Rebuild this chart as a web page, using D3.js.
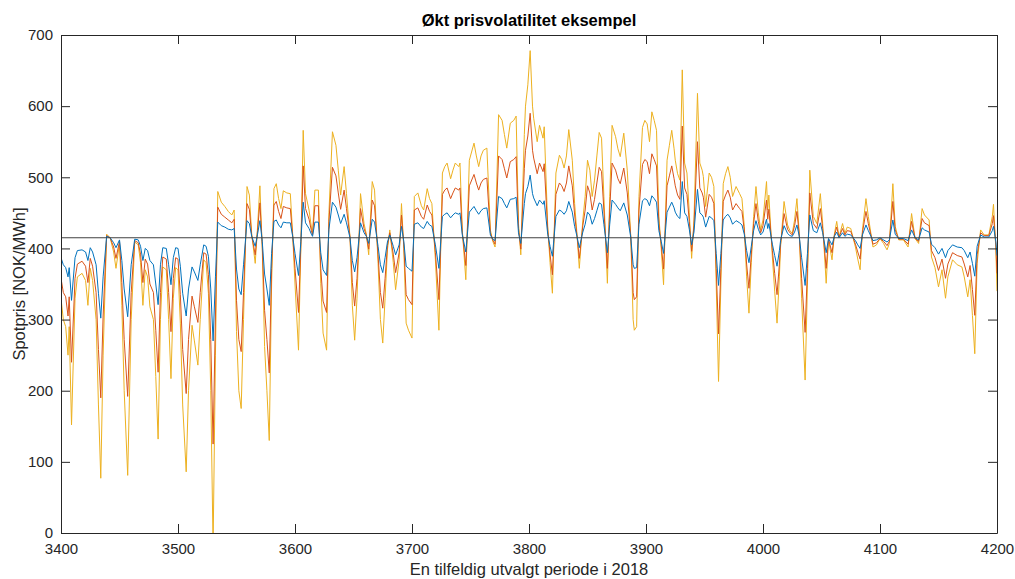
<!DOCTYPE html>
<html>
<head>
<meta charset="utf-8">
<script src="https://cdn.jsdelivr.net/npm/d3@7"></script>
<style>
  body { margin: 0; background: #fff; }
  text { font-family: "Liberation Sans", Arial, Helvetica, sans-serif; }
</style>
</head>
<body>
<div id="chart"></div>
<script>
// Hours (x) and spot prices
const hours = [3400,3402,3404,3406,3407,3409,3412,3414,3418,3421,3423,3425,3427,3430,3432,3434,3436,3439,3442,3445,3447,3450,3452,3454,3457,3460,3463,3466,3468,3470,3472,3474,3476,3479,3481,3483,3485,3487,3490,3492,3494,3496,3498,3500,3502,3504,3507,3509,3512,3514,3517,3519,3522,3524,3526,3528,3530,3532,3534,3537,3540,3543,3546,3548,3550,3552,3554,3556,3559,3561,3563,3566,3568,3570,3572,3574,3576,3578,3580,3582,3584,3586,3588,3590,3593,3596,3598,3600,3603,3605,3607,3609,3612,3614,3615,3617,3620,3622,3624,3627,3629,3632,3635,3637,3639,3642,3644,3647,3649,3651,3653,3656,3659,3661,3663,3666,3668,3671,3673,3675,3677,3679,3681,3684,3686,3689,3691,3693,3695,3697,3700,3702,3705,3708,3710,3713,3715,3717,3720,3723,3726,3728,3730,3733,3735,3737,3740,3741,3743,3746,3749,3753,3755,3757,3759,3761,3764,3767,3769,3771,3774,3777,3779,3781,3784,3787,3789,3791,3793,3796,3797,3799,3801,3803,3804,3807,3809,3812,3813,3816,3818,3820,3823,3826,3828,3830,3832,3834,3837,3839,3841,3843,3846,3848,3850,3852,3854,3856,3858,3860,3862,3864,3867,3869,3871,3874,3876,3878,3881,3884,3887,3889,3890,3892,3894,3897,3899,3901,3903,3905,3907,3909,3911,3913,3915,3918,3920,3922,3924,3925,3927,3929,3931,3933,3935,3937,3939,3941,3944,3946,3948,3949,3951,3954,3956,3958,3960,3962,3964,3966,3968,3970,3972,3974,3977,3980,3982,3984,3986,3988,3990,3992,3994,3996,3998,4000,4003,4004,4005,4008,4010,4012,4014,4015,4018,4021,4023,4025,4027,4029,4031,4033,4036,4038,4040,4043,4046,4049,4051,4054,4056,4059,4061,4063,4065,4068,4070,4072,4075,4077,4079,4081,4083,4085,4088,4090,4094,4097,4100,4103,4106,4108,4111,4113,4116,4120,4124,4127,4130,4133,4136,4138,4142,4144,4147,4150,4153,4156,4158,4162,4166,4170,4172,4175,4177,4179,4181,4183,4186,4189,4193,4196,4197,4199,4200];

// Base series (blue)
const priceBase = [387,377,373,360,373,327,387,397,398,395,383,401,395,377,337,302,360,417,415,408,401,412,383,343,304,377,413,412,403,383,400,397,383,377,350,321,377,401,400,377,349,387,401,400,375,337,305,343,374,367,355,377,405,403,389,343,270,360,437,432,430,427,426,428,371,343,335,377,439,435,417,403,420,439,410,364,343,320,393,438,440,433,429,437,436,436,417,393,362,410,465,436,428,420,417,437,437,394,370,362,427,465,458,447,435,448,436,415,383,367,387,436,422,417,407,441,437,403,377,366,387,409,419,403,391,405,431,410,375,372,368,434,436,430,428,438,433,431,405,372,445,448,450,443,447,450,448,450,419,395,451,459,453,448,453,456,457,419,413,411,473,470,463,457,469,470,472,422,407,463,477,487,503,477,471,460,468,462,467,420,403,389,445,454,452,448,453,466,451,431,417,401,423,434,451,447,434,442,453,464,462,434,394,434,468,462,457,453,464,447,415,377,372,373,434,467,470,468,460,474,470,465,425,410,393,451,458,465,457,451,445,442,494,450,445,427,405,423,483,450,447,444,430,445,443,439,393,348,393,440,445,448,443,434,439,436,433,420,397,380,403,425,439,427,419,423,441,428,435,406,390,375,397,411,432,421,418,417,423,433,417,387,348,393,447,425,422,436,422,394,414,405,417,423,415,422,417,420,419,415,411,405,400,419,433,425,411,412,415,412,409,412,440,420,414,414,411,426,415,412,429,426,423,406,401,392,400,387,397,405,402,401,397,387,395,379,361,403,419,416,416,425,431,410,390];

// Doubled volatility (red)
const priceDouble = [358,338,332,305,332,240,358,378,382,375,352,386,375,338,258,190,305,418,415,402,386,410,352,272,192,338,411,408,392,352,385,378,350,338,285,226,338,388,385,338,283,358,387,385,335,258,196,272,333,318,296,338,394,392,363,272,125,305,458,448,444,440,436,441,327,272,255,338,463,455,418,391,425,464,405,313,272,225,372,461,466,452,442,459,457,456,418,372,310,405,516,456,441,425,419,460,460,372,326,310,438,514,502,478,455,482,456,416,352,319,358,456,428,418,399,468,460,391,338,316,358,404,422,392,366,394,447,405,335,328,321,454,457,445,441,461,452,447,394,328,476,482,485,470,478,485,482,485,422,376,488,504,492,482,492,497,499,422,412,406,530,525,512,499,522,525,529,428,399,512,538,558,590,538,527,505,520,508,519,426,392,363,476,492,488,480,492,516,488,447,418,386,432,454,488,478,454,469,492,514,508,454,372,454,520,510,498,491,513,478,416,338,328,332,454,518,525,522,505,533,525,516,435,405,371,488,502,516,498,488,475,469,572,485,476,438,396,432,550,485,478,472,444,476,472,463,372,280,372,466,475,482,472,454,463,456,452,426,378,344,392,435,463,438,422,432,468,441,455,397,365,335,378,406,449,427,422,419,432,452,419,358,282,372,478,435,428,456,428,372,413,394,418,430,416,428,419,425,424,415,406,395,385,422,452,435,406,408,414,410,404,410,466,426,413,413,406,438,414,410,442,436,432,397,387,369,385,358,378,394,390,388,378,360,376,342,306,391,422,418,418,435,446,405,365];

// Tripled volatility (yellow)
const priceTriple = [330,300,290,250,290,152,330,360,365,355,320,372,355,300,180,77,250,420,415,395,372,407,320,200,81,300,409,405,380,320,370,360,318,300,220,132,300,374,370,300,217,330,373,370,295,180,86,200,292,270,236,300,384,380,337,200,-20,250,480,465,459,452,447,454,283,200,175,300,487,475,420,379,430,488,400,262,200,130,350,484,491,470,456,481,478,477,420,350,257,400,566,477,454,430,421,482,482,351,281,257,450,564,545,510,475,515,477,416,320,271,330,477,435,420,391,494,482,379,300,267,330,398,426,380,342,384,463,400,295,285,274,473,478,460,454,484,470,463,384,285,506,515,520,498,510,520,515,520,426,356,524,548,530,515,530,538,541,426,410,402,588,580,560,541,576,580,586,435,391,560,600,630,678,600,583,550,573,555,571,431,380,337,506,531,525,513,530,567,524,463,420,372,440,473,524,510,473,496,530,563,555,473,351,473,573,557,540,529,562,510,416,300,285,290,473,570,580,575,550,592,580,566,445,400,349,524,545,566,540,524,505,496,651,520,506,450,386,440,618,520,510,501,459,506,500,487,350,213,350,491,505,515,500,473,487,477,470,431,360,309,380,445,487,450,426,440,494,454,475,388,340,295,360,402,466,433,425,421,440,470,421,330,215,350,510,445,435,477,435,351,412,384,420,438,416,435,421,430,428,415,402,385,370,426,470,445,402,405,414,407,398,407,491,431,412,412,402,449,414,407,456,447,440,388,373,346,370,330,360,384,377,374,360,332,356,306,252,379,426,419,419,445,462,400,340];

const meanPrice = 415;

const xTicks = [3400,3500,3600,3700,3800,3900,4000,4100,4200];
const yTicks = [0,100,200,300,400,500,600,700];

const seriesColors = ['#0072BD', '#D95319', '#EDB120'];

const width = 1015, height = 579;
const margin = { top: 35, right: 18, bottom: 46, left: 61 };
const plotW = width - margin.left - margin.right;
const plotH = height - margin.top - margin.bottom;

const svg = d3.select('#chart').append('svg')
    .attr('width', width)
    .attr('height', height);

const x = d3.scaleLinear().domain([3400, 4200]).range([0, plotW]);
const y = d3.scaleLinear().domain([0, 700]).range([plotH, 0]);

const g = svg.append('g')
    .attr('transform', `translate(${margin.left},${margin.top})`);

g.append('clipPath').attr('id', 'plot-clip')
    .append('rect').attr('width', plotW).attr('height', plotH);

const plot = g.append('g').attr('clip-path', 'url(#plot-clip)');

const line = d3.line()
    .x((d, i) => x(hours[i]))
    .y(d => y(d));

// yellow first so blue sits on top
[priceTriple, priceDouble, priceBase].forEach((series, k) => {
    plot.append('path')
        .datum(series)
        .attr('fill', 'none')
        .attr('stroke', seriesColors[2 - k])
        .attr('stroke-width', 1)
        .attr('stroke-linejoin', 'round')
        .attr('d', line);
});

// Mean price line
plot.append('line')
    .attr('x1', 0).attr('x2', plotW)
    .attr('y1', y(meanPrice)).attr('y2', y(meanPrice))
    .attr('stroke', '#404040')
    .attr('stroke-width', 1);

// Axes, ticks inward on all four sides (MATLAB box style)
const tickLen = 9;
const axisColor = '#262626';
const fmt = d3.format('d');

function styleAxis(sel) {
    sel.select('.domain').attr('stroke', axisColor);
    sel.selectAll('.tick line').attr('stroke', axisColor);
    sel.selectAll('.tick text')
        .attr('fill', axisColor)
        .style('font-size', '15px');
}

g.append('g')
    .attr('transform', `translate(0,${plotH})`)
    .call(d3.axisBottom(x).tickValues(xTicks).tickFormat(fmt).tickSize(-tickLen).tickSizeOuter(0).tickPadding(10))
    .call(styleAxis);

g.append('g')
    .call(d3.axisTop(x).tickValues(xTicks).tickSize(-tickLen).tickSizeOuter(0).tickFormat(''))
    .call(styleAxis);

g.append('g')
    .call(d3.axisLeft(y).tickValues(yTicks).tickFormat(fmt).tickSize(-tickLen).tickSizeOuter(0).tickPadding(8))
    .call(styleAxis);

g.append('g')
    .attr('transform', `translate(${plotW},0)`)
    .call(d3.axisRight(y).tickValues(yTicks).tickSize(-tickLen).tickSizeOuter(0).tickFormat(''))
    .call(styleAxis);

g.selectAll('.domain').attr('stroke-width', 1);

// Title and labels
svg.append('text')
    .attr('x', margin.left + plotW / 2)
    .attr('y', 26)
    .attr('text-anchor', 'middle')
    .style('font-size', '16.5px')
    .style('font-weight', 'bold')
    .attr('fill', '#000')
    .text('Økt prisvolatilitet eksempel');

svg.append('text')
    .attr('x', margin.left + plotW / 2)
    .attr('y', 575)
    .attr('text-anchor', 'middle')
    .style('font-size', '16.5px')
    .attr('fill', axisColor)
    .text('En tilfeldig utvalgt periode i 2018');

svg.append('text')
    .attr('transform', `translate(25,${margin.top + plotH / 2}) rotate(-90)`)
    .attr('text-anchor', 'middle')
    .style('font-size', '16.5px')
    .attr('fill', axisColor)
    .text('Spotpris [NOK/MWh]');
</script>
</body>
</html>
